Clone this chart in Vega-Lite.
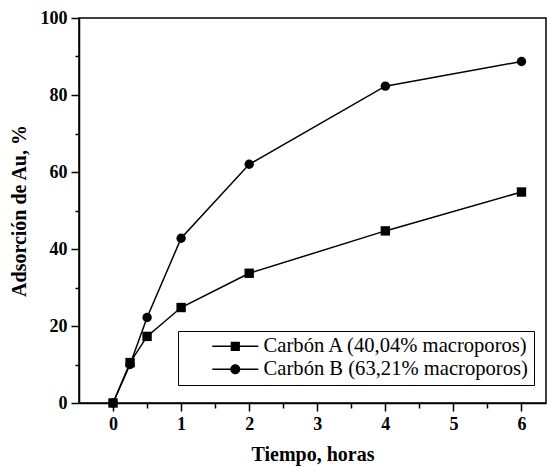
{
  "$schema": "https://vega.github.io/schema/vega-lite/v6.json",
  "autosize": "none",
  "padding": {"left": 79, "top": 18, "right": 1, "bottom": 63},
  "width": 467,
  "height": 385,
  "background": "white",
  "config": {
    "view": {"stroke": "black", "strokeWidth": 1.5},
    "axis": {
      "domainColor": "black", "domainWidth": 1.5,
      "tickColor": "black", "tickWidth": 1.5,
      "labelFont": "Liberation Serif", "labelFontWeight": "bold", "labelFontSize": 18, "labelColor": "black",
      "titleFont": "Liberation Serif", "titleFontWeight": "bold", "titleFontSize": 20, "titleColor": "black",
      "grid": false
    }
  },
  "data": {"values": [
    {"t": 0, "ads": 0, "serie": "Carbón A (40,04% macroporos)"},
    {"t": 0.25, "ads": 10.5, "serie": "Carbón A (40,04% macroporos)"},
    {"t": 0.5, "ads": 17.3, "serie": "Carbón A (40,04% macroporos)"},
    {"t": 1, "ads": 24.8, "serie": "Carbón A (40,04% macroporos)"},
    {"t": 2, "ads": 33.7, "serie": "Carbón A (40,04% macroporos)"},
    {"t": 4, "ads": 44.7, "serie": "Carbón A (40,04% macroporos)"},
    {"t": 6, "ads": 54.8, "serie": "Carbón A (40,04% macroporos)"},
    {"t": 0, "ads": 0, "serie": "Carbón B (63,21% macroporos)"},
    {"t": 0.25, "ads": 10, "serie": "Carbón B (63,21% macroporos)"},
    {"t": 0.5, "ads": 22.2, "serie": "Carbón B (63,21% macroporos)"},
    {"t": 1, "ads": 42.8, "serie": "Carbón B (63,21% macroporos)"},
    {"t": 2, "ads": 62, "serie": "Carbón B (63,21% macroporos)"},
    {"t": 4, "ads": 82.3, "serie": "Carbón B (63,21% macroporos)"},
    {"t": 6, "ads": 88.7, "serie": "Carbón B (63,21% macroporos)"}
  ]},
  "encoding": {
    "x": {"field": "t", "type": "quantitative",
      "scale": {"domain": [-0.5, 6.36], "nice": false, "zero": false},
      "axis": {"title": "Tiempo, horas", "values": [0, 0.5, 1, 1.5, 2, 2.5, 3, 3.5, 4, 4.5, 5, 5.5, 6],
        "labelExpr": "datum.value % 1 === 0 ? format(datum.value, 'd') : ''",
        "tickSize": {"expr": "datum.value % 1 === 0 ? 8 : 5"},
        "labelPadding": 4, "titlePadding": 11}},
    "y": {"field": "ads", "type": "quantitative",
      "scale": {"domain": [0, 100], "nice": false},
      "axis": {"title": "Adsorción de Au, %", "values": [0, 10, 20, 30, 40, 50, 60, 70, 80, 90, 100],
        "labelExpr": "datum.value % 20 === 0 ? datum.label : ''",
        "tickSize": {"expr": "datum.value % 20 === 0 ? 8 : 4"},
        "labelPadding": 4, "titlePadding": 11}}
  },
  "layer": [
    {"mark": {"type": "line", "color": "black", "strokeWidth": 1.5},
     "encoding": {"detail": {"field": "serie", "type": "nominal"}}},
    {"mark": {"type": "point", "filled": true, "color": "black", "opacity": 1, "size": 88},
     "encoding": {"shape": {"field": "serie", "type": "nominal",
       "scale": {"domain": ["Carbón A (40,04% macroporos)", "Carbón B (63,21% macroporos)"], "range": ["square", "circle"]},
       "legend": null}}},
    {"mark": {"type": "point", "filled": true, "color": "black", "opacity": 0},
     "encoding": {"shape": {"field": "serie", "type": "nominal",
       "scale": {"domain": ["Carbón A (40,04% macroporos)", "Carbón B (63,21% macroporos)"],
         "range": ["M-4.6,-0.15H4.6V0.15H-4.6ZM-0.92,-0.92H0.92V0.92H-0.92Z", "M-4.6,-0.15H4.6V0.15H-4.6ZM-1,0A1,1 0 1,1 1,0A1,1 0 1,1 -1,0Z"]},
       "legend": {"title": null, "orient": "none", "legendX": 99, "legendY": 313,
         "strokeColor": "black", "padding": 5, "rowPadding": 2,
         "symbolSize": 100, "symbolOpacity": 1, "symbolFillColor": "black", "symbolStrokeColor": "black", "symbolStrokeWidth": 0,
         "labelFont": "Liberation Serif", "labelFontSize": 20.6, "labelColor": "black", "labelLimit": 400,
         "symbolOffset": 42, "labelOffset": 18,
         "encode": {"symbols": {"update": {"fill": {"value": "black"}, "opacity": {"value": 1}}}}}}}}
  ],
  "resolve": {"scale": {"shape": "independent"}, "legend": {"shape": "independent"}}
}
